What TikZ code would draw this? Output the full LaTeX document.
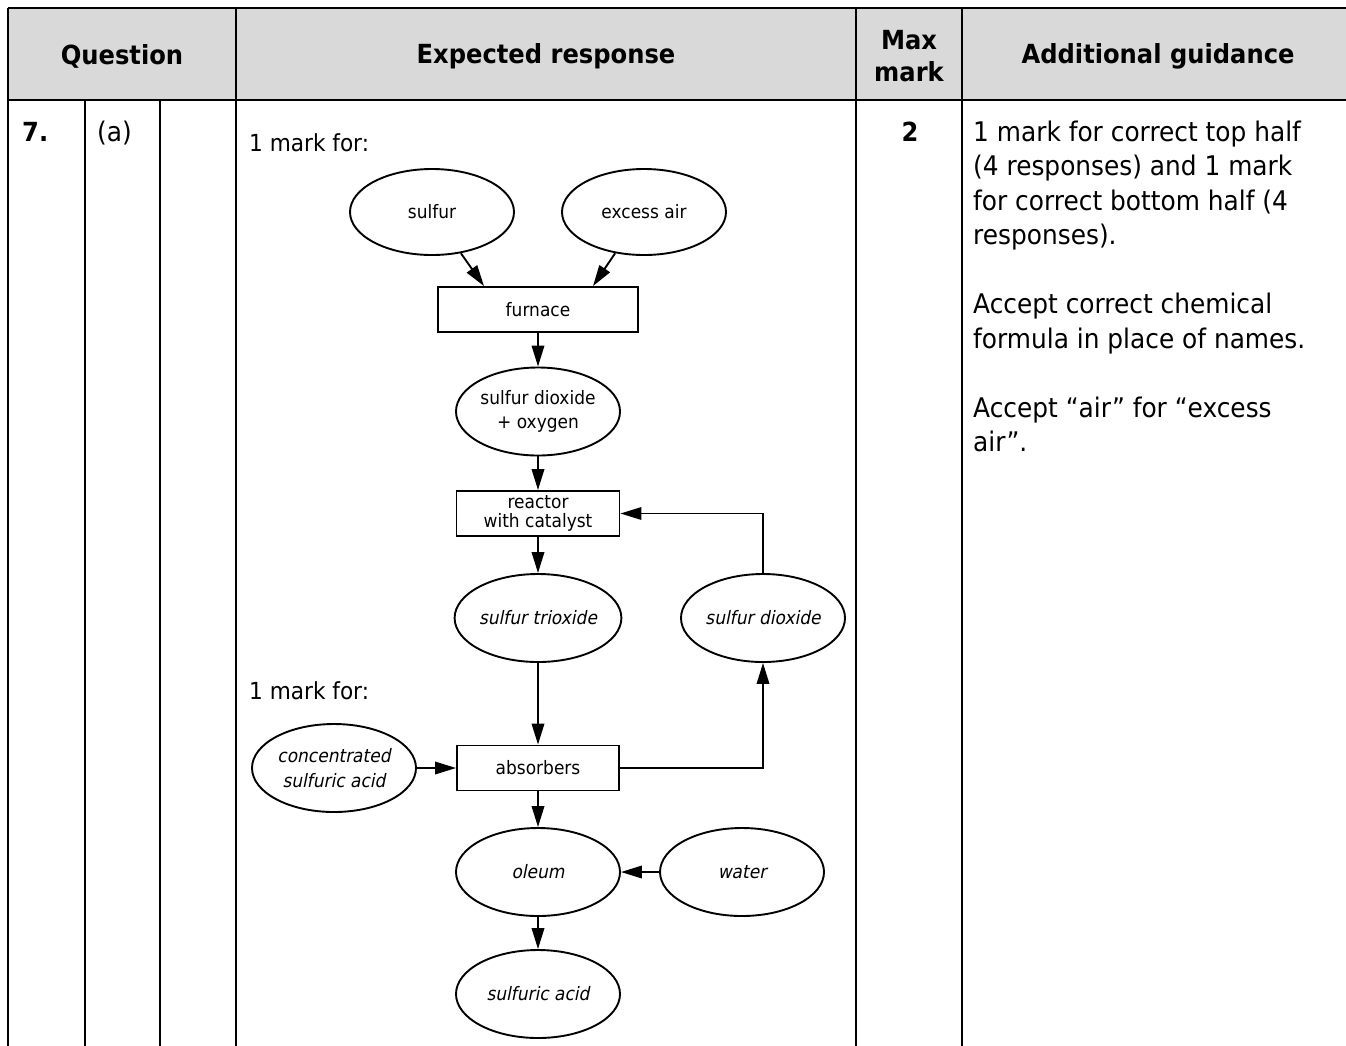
\documentclass[tikz,border=0pt]{standalone}
\usepackage{fontspec}
\setmainfont{DejaVu Sans}[FakeStretch=0.92, AutoFakeSlant=0.2]
\usetikzlibrary{shapes.geometric, arrows.meta, calc}
\definecolor{hdrgrey}{HTML}{D9D9D9}
\begin{document}
\begin{tikzpicture}[x=1pt,y=-1pt,
  tline/.style={line width=2.4pt, black},
  hdr/.style={font=\fontsize{26.3}{32}\selectfont\bfseries, inner sep=0pt, align=center},
  body/.style={font=\fontsize{27}{34.5}\selectfont, inner sep=0pt, anchor=base west},
  bodyb/.style={font=\fontsize{26.3}{32}\selectfont\bfseries, inner sep=0pt},
  small/.style={font=\fontsize{23.5}{28}\selectfont, inner sep=0pt, anchor=base west},
  ell/.style={draw, line width=1.9pt, ellipse, minimum width=164pt, minimum height=88pt, inner sep=0pt, font=\fontsize{18.5}{24.5}\selectfont, align=center},
  iell/.style={ell, font=\fontsize{18.5}{25.5}\selectfont\itshape},
  boxn/.style={draw, line width=1.9pt, rectangle, minimum height=45pt, inner sep=0pt, font=\fontsize{18.5}{19.5}\selectfont, align=center},
  arr/.style={line width=1.9pt, -{Triangle[length=21pt,width=12.5pt]}}
]
\useasboundingbox (0,0) rectangle (1346,1045);
\clip (0,0) rectangle (1346,1045);
% header background
\fill[hdrgrey] (8,8) rectangle (1350,100);
% table lines
\draw[tline] (8,8) -- (1350,8);
\draw[tline] (8,100) -- (1350,100);
\draw[tline] (8,8) -- (8,1050);
\draw[tline] (236,8) -- (236,1050);
\draw[tline] (856,8) -- (856,1050);
\draw[tline] (962,8) -- (962,1050);
\draw[tline] (85,100) -- (85,1050);
\draw[tline] (160,100) -- (160,1050);
% header texts
\node[hdr] (hq) at (122,56) {Question};
\node[hdr] (he) at (546,56) {Expected response};
\node[hdr] (hm) at (909,56) {Max\\mark};
\node[hdr] (hg) at (1158,56) {Additional guidance};
% row texts
\node[bodyb, anchor=base west] (q7) at (22,141) {7.};
\node[body] (qa) at (97,141) {(a)};
\node[bodyb, anchor=base] (mk) at (910,141) {2};
\node[body] (g1) at (973,141) {1 mark for correct top half};
\node[body] (g2) at (973,175.5) {(4 responses) and 1 mark};
\node[body] (g3) at (973,210) {for correct bottom half (4};
\node[body] (g4) at (973,244.5) {responses).};
\node[body] (g5) at (973,313.5) {Accept correct chemical};
\node[body] (g6) at (973,348) {formula in place of names.};
\node[body] (g7) at (973,417) {Accept “air” for “excess};
\node[body] (g8) at (973,451.5) {air”.};
\node[small] (m1) at (249,151) {1 mark for:};
\node[small] (m2) at (249,699) {1 mark for:};
% diagram nodes
\node[ell, minimum height=86pt] (sulfur) at (432,212) {sulfur};
\node[ell, minimum height=86pt] (air) at (644,212) {excess air};
\node[boxn, minimum width=200pt] (furnace) at (538,309.5) {furnace};
\node[ell] (so2o2) at (538,411.5) {sulfur dioxide\\+ oxygen};
\node[boxn, minimum width=163pt] (reactor) at (538,513.5) {reactor\\with catalyst};
\node[iell] (so3) at (538,618) {sulfur trioxide};
\node[iell] (so2) at (763,618) {sulfur dioxide};
\node[boxn, minimum width=162pt] (absorbers) at (538,768) {absorbers};
\node[iell] (conc) at (334,768) {concentrated\\sulfuric acid};
\node[iell] (oleum) at (538,872) {oleum};
\node[iell] (water) at (742,872) {water};
\node[iell] (acid) at (538,994) {sulfuric acid};
% connectors
\draw[arr] (sulfur.-55) -- ($(furnace.north)+(-54,0)$);
\draw[arr] (air.-125) -- ($(furnace.north)+(55,0)$);
\draw[arr] (furnace) -- (so2o2);
\draw[arr] (so2o2) -- (reactor);
\draw[arr] (reactor) -- (so3);
\draw[arr] (so2.north) |- (reactor.east);
\draw[arr] (so3) -- (absorbers);
\draw[arr] (absorbers.east) -| (so2.south);
\draw[arr] (conc) -- (absorbers);
\draw[arr] (absorbers) -- (oleum);
\draw[arr] (water) -- (oleum);
\draw[arr] (oleum) -- (acid);
\end{tikzpicture}
\end{document}
